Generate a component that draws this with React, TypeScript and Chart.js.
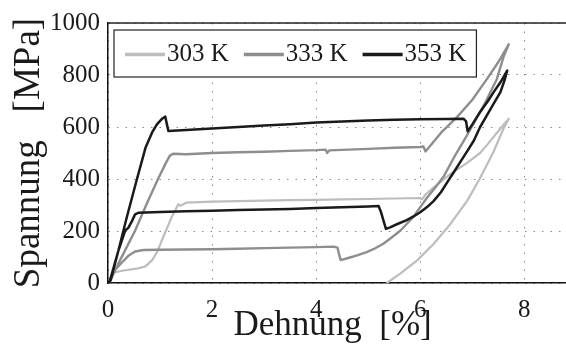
import React, { useEffect, useRef } from 'react';
import { Chart, registerables } from 'chart.js';

Chart.register(...registerables);

const seriesLabels = ['303 K', '333 K', '353 K'];
const seriesColors = ['#bdbdbd', '#8e8e8e', '#1a1a1a'];
const xTicks = [0, 2, 4, 6, 8];
const yTicks = [0, 200, 400, 600, 800, 1000];
const xTitle = 'Dehnung\u2002[%]\u2005';
const yTitle = 'Spannung\u2002 [MPa]';

const strain303 = [0, 0.04, 0.1, 0.3, 0.55, 0.72, 0.85, 0.95, 1.06, 1.22, 1.35, 1.39, 1.5, 2.0, 2.5, 3.0, 3.5, 4.0, 4.5, 5.0, 5.5, 6.0, 6.03, 6.1, 6.26, 6.58, 6.9, 7.15, 7.3, 7.54, 7.7,
  7.6, 7.41, 7.15, 6.9, 6.58, 6.26, 5.94, 5.62, 5.36];
const stress303 = [0, 15, 40, 48, 55, 64, 88, 122, 176, 252, 303, 297, 309, 313, 315, 317, 319, 320, 322, 323, 325, 327, 321, 340, 368, 420, 462, 500, 535, 594, 632,
  594, 506, 404, 316, 227, 151, 87, 37, 0];

const strain333 = [0, 0.04, 0.23, 0.52, 0.74, 0.97, 1.12, 1.19, 1.25, 1.5, 2.0, 2.5, 3.0, 3.5, 4.0, 4.18, 4.21, 4.25, 4.5, 5.0, 5.5, 6.0, 6.06, 6.1, 6.4, 6.71, 7.0, 7.28, 7.5, 7.7,
  7.6, 7.47, 7.22, 6.9, 6.64, 6.45, 6.3, 6.13, 6.0, 5.87, 5.62, 5.45, 5.29, 5.1, 4.97, 4.8, 4.65, 4.47, 4.44, 4.41, 4.33, 4.0, 3.5, 3.0, 2.5, 2.0, 1.5, 1.0, 0.68, 0.52, 0.4, 0.25, 0.13, 0.04, 0];
const stress333 = [0, 8, 87, 201, 303, 404, 465, 490, 497, 495, 500, 503, 505, 508, 511, 513, 500, 510, 512, 516, 520, 523, 525, 506, 578, 639, 705, 784, 850, 918,
  870, 784, 683, 569, 480, 410, 370, 328, 292, 255, 202, 175, 151, 130, 119, 107, 98, 88, 110, 136, 140, 138, 136, 134, 132, 130, 129, 128, 127, 121, 106, 75, 49, 11, 0];

const strain353 = [0, 0.04, 0.2, 0.36, 0.55, 0.72, 0.85, 0.94, 1.04, 1.1, 1.13, 1.16, 1.5, 2.0, 2.5, 3.0, 3.5, 4.0, 4.5, 5.0, 5.5, 6.0, 6.5, 6.83, 6.88, 6.91, 7.0, 7.15, 7.3, 7.41, 7.55, 7.67,
  7.62, 7.54, 7.41, 7.28, 7.15, 7.03, 6.9, 6.77, 6.65, 6.52, 6.4, 6.26, 6.13, 6.0, 5.87, 5.74, 5.55, 5.42, 5.34, 5.3, 5.25, 5.2, 5.0, 4.5, 4.0, 3.5, 3.0, 2.5, 2.0, 1.5, 1.0, 0.58, 0.52, 0.46, 0.39, 0.33, 0.2, 0.05, 0];
const stress353 = [0, 11, 125, 252, 395, 520, 580, 610, 632, 640, 612, 585, 588, 594, 600, 606, 611, 617, 621, 625, 628, 630, 631, 632, 622, 583, 610, 658, 700, 734, 775, 817,
  780, 734, 690, 645, 600, 548, 506, 466, 428, 388, 350, 316, 292, 272, 256, 242, 226, 214, 208, 235, 270, 296, 294, 291, 288, 285, 283, 281, 278, 276, 273, 270, 264, 238, 212, 202, 125, 10, 0];

const seriesStrain = [strain303, strain333, strain353];
const seriesStress = [stress303, stress333, stress353];
const lineWidths = [2.2, 2.4, 2.5];
const drawOrder = [3, 2, 1];

const FONT = '"Liberation Serif", "Times New Roman", serif';

const frameLegendPlugin = {
  id: 'frameLegend',
  afterDraw(chart: any) {
    const { ctx, chartArea } = chart;
    const { left, top, right } = chartArea;
    ctx.save();
    ctx.strokeStyle = '#222';
    ctx.lineWidth = 1.5;
    ctx.beginPath();
    ctx.moveTo(left, top);
    ctx.lineTo(right, top);
    ctx.stroke();

    ctx.font = `25px ${FONT}`;
    const bx = left + 6;
    const by = top + 7;
    const bh = 47;
    const cy = by + bh / 2 + 1;
    let x = left + 17;
    const items: { x: number; w: number }[] = [];
    chart.data.datasets.forEach((ds: any) => {
      const w = ctx.measureText(ds.label).width;
      items.push({ x, w });
      x += 40 + 3 + w + 14;
    });
    const last = items[items.length - 1];
    const bw = last.x + 43 + last.w + 9 - bx;
    ctx.fillStyle = '#fff';
    ctx.fillRect(bx, by, bw, bh);
    ctx.strokeStyle = '#222';
    ctx.lineWidth = 1.2;
    ctx.strokeRect(bx, by, bw, bh);
    chart.data.datasets.forEach((ds: any, i: number) => {
      const it = items[i];
      ctx.strokeStyle = ds.borderColor;
      ctx.lineWidth = 3.5;
      ctx.beginPath();
      ctx.moveTo(it.x, cy);
      ctx.lineTo(it.x + 40, cy);
      ctx.stroke();
      ctx.fillStyle = '#1a1a1a';
      ctx.textBaseline = 'middle';
      ctx.textAlign = 'left';
      ctx.fillText(ds.label, it.x + 42, cy);
    });
    ctx.restore();
  },
};

export default function App() {
  const ref = useRef<HTMLCanvasElement>(null);
  useEffect(() => {
    const canvas = ref.current;
    if (!canvas) return;
    const datasets = seriesLabels.map((label, i) => ({
      label,
      data: seriesStrain[i].map((x, j) => ({ x, y: seriesStress[i][j] })),
      showLine: true,
      borderColor: seriesColors[i],
      backgroundColor: seriesColors[i],
      borderWidth: lineWidths[i],
      borderJoinStyle: 'round' as const,
      borderCapStyle: 'round' as const,
      pointRadius: 0,
      tension: 0,
      order: drawOrder[i],
    }));
    const chart = new Chart(canvas, {
      type: 'scatter',
      data: { datasets },
      options: {
        animation: false,
        responsive: false,
        devicePixelRatio: 1,
        layout: { padding: { top: 20, right: 0, left: 0, bottom: 0 } },
        plugins: { legend: { display: false }, tooltip: { enabled: false } },
        scales: {
          x: {
            type: 'linear',
            min: 0,
            max: 8.8,
            afterBuildTicks: (s: any) => { s.ticks = xTicks.map((v) => ({ value: v })); },
            afterFit: (s: any) => { s.height = 73; },
            ticks: { color: '#1a1a1a', font: { family: FONT, size: 25 }, padding: 12, maxRotation: 0, callback: (v: any) => String(v) },
            grid: { color: '#8a8a8a', lineWidth: 1, drawTicks: false },
            border: { display: true, color: '#111', width: 1.5, dash: [1.5, 7] },
            title: { display: true, text: xTitle, color: '#1a1a1a', font: { family: FONT, size: 35, lineHeight: 1 }, padding: { top: 0, bottom: 13 } },
          },
          y: {
            type: 'linear',
            min: 0,
            max: 1000,
            afterBuildTicks: (s: any) => { s.ticks = yTicks.map((v) => ({ value: v })); },
            afterFit: (s: any) => { s.width = 108; },
            ticks: { color: '#1a1a1a', font: { family: FONT, size: 25 }, padding: 8, callback: (v: any) => String(v) },
            grid: { color: '#8a8a8a', lineWidth: 1, drawTicks: false },
            border: { display: true, color: '#111', width: 1.5, dash: [1.5, 7] },
            title: { display: true, text: yTitle, color: '#1a1a1a', font: { family: FONT, size: 37, lineHeight: 1 }, padding: { top: 11, bottom: 0 } },
          },
        },
      },
      plugins: [frameLegendPlugin],
    });
    return () => chart.destroy();
  }, []);
  return (
    <div style={{ position: 'fixed', left: 0, top: 0, width: 566, height: 356, background: '#fff', overflow: 'hidden' }}>
      <canvas ref={ref} width={566} height={356} style={{ display: 'block', width: 566, height: 356 }} />
    </div>
  );
}
